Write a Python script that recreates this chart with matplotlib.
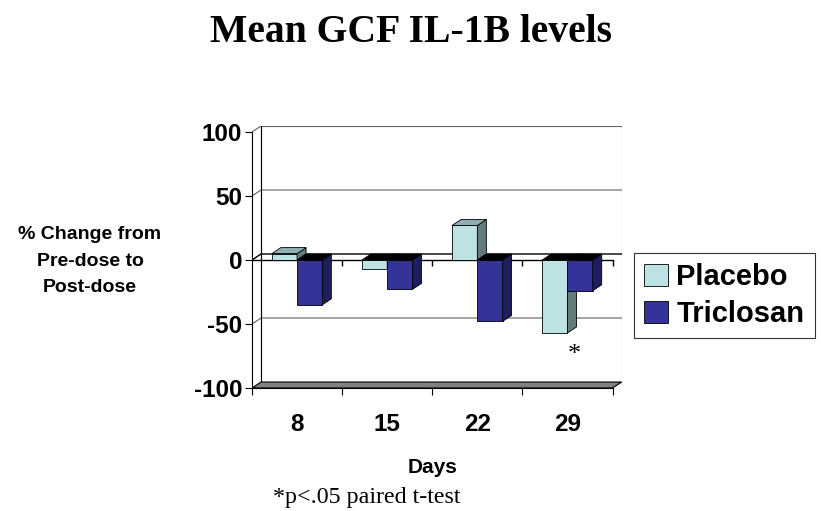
import numpy as np
import matplotlib.pyplot as plt
from matplotlib.patches import Polygon, Rectangle, Patch

# data
days = ["8", "15", "22", "29"]
placebo = [5, -7, 27, -57]
triclosan = [-35, -23, -48, -24]
y_ticks = [-100, -50, 0, 50, 100]

# colours (Excel 3D style: face, side, top)
plac_face, plac_side, plac_top = "#BDE2E4", "#627C7C", "#8FB0B2"
tric_face, tric_side, tric_top = "#333399", "#1E1E5C", "#2A2A6E"

fig = plt.figure(figsize=(8.21, 5.11), dpi=100)
ax = fig.add_axes([252 / 821, 1 - 388 / 511, 370 / 821, 262 / 511])

# depth offset of the 3D look in data units
dx = 9 / 90.0
dy = 6 / 1.285
x = np.arange(len(days))
bw = 0.28

ax.set_xlim(-0.5, 3.5 + dx + 0.005)
ax.set_ylim(-100, 100 + dy)

# back wall and gridlines
ax.add_patch(Rectangle((-0.5 + dx, -100 + dy), 4, 200, facecolor="white",
                       edgecolor="#606060", lw=0.8, zorder=0))
for g in [50, -50]:
    ax.plot([-0.5, -0.5 + dx, 3.5 + dx], [g, g + dy, g + dy], color="#606060", lw=0.8, zorder=1)
ax.plot([-0.5, -0.5 + dx, 3.5 + dx], [100, 100 + dy, 100 + dy], color="#606060", lw=0.8, zorder=1)
ax.plot([-0.5 + dx, -0.5 + dx], [-100 + dy, 100 + dy], color="black", lw=0.8, zorder=1)
# zero plane (back line) and floor
ax.plot([-0.5, -0.5 + dx, 3.5 + dx], [0, dy, dy], color="black", lw=1.0, zorder=1)
ax.add_patch(Polygon([(-0.5, -100), (3.5, -100), (3.5 + dx, -100 + dy), (-0.5 + dx, -100 + dy)],
                     closed=True, facecolor="#808080", edgecolor="black", lw=0.8, zorder=1))


def bar3d(xc, v, face, side, top):
    x0, x1 = xc - bw / 2, xc + bw / 2
    ax.bar(xc, v, width=bw, color=face, edgecolor="black", lw=0.6, zorder=3)
    ytop = max(v, 0)
    ybot = min(v, 0)
    ax.add_patch(Polygon([(x1, ybot), (x1 + dx, ybot + dy), (x1 + dx, ytop + dy), (x1, ytop)],
                         closed=True, facecolor=side, edgecolor="black", lw=0.6, zorder=3))
    tcol = top if v > 0 else "black"
    ax.add_patch(Polygon([(x0, ytop), (x1, ytop), (x1 + dx, ytop + dy), (x0 + dx, ytop + dy)],
                         closed=True, facecolor=tcol, edgecolor="black", lw=0.6, zorder=3))


for i in range(len(days)):
    bar3d(x[i] - bw / 2, placebo[i], plac_face, plac_side, plac_top)
for i in range(len(days)):
    bar3d(x[i] + bw / 2, triclosan[i], tric_face, tric_side, tric_top)

# front zero axis with ticks
ax.plot([-0.5, 3.5], [0, 0], color="black", lw=1.0, zorder=2)
ax.vlines(np.arange(0.5, 4.0, 1.0), -4.5, 0, color="black", lw=1.0, zorder=2)

for s in ["top", "right"]:
    ax.spines[s].set_visible(False)
ax.spines["left"].set_bounds(-100, 100)
ax.spines["bottom"].set_bounds(-0.5, 3.5)
ax.set_yticks(y_ticks)
ax.set_yticklabels([str(t) for t in y_ticks], fontsize=17.5, fontweight="bold", family="Liberation Sans")
ax.set_xticks(np.arange(-0.5, 4.0, 1.0))
ax.set_xticklabels([])
ax.set_xticks(x, minor=True)
ax.set_xticklabels(days, minor=True, fontsize=17.5, fontweight="bold", family="Liberation Sans")
ax.tick_params(axis="x", which="minor", length=0, pad=18)
ax.tick_params(axis="x", which="major", length=5, direction="out")
ax.tick_params(axis="y", length=5, direction="out", pad=2)
ax.patch.set_visible(False)

ax.text(x[3] + 0.08, -74, "*", fontsize=19, family="Liberation Serif", ha="center", va="center")

fig.text(411 / 821, 1 - 32 / 511, "Mean GCF IL-1B levels", fontsize=28.5, fontweight="bold",
         family="Liberation Serif", ha="center", va="center")
fig.text(90 / 821, 1 - 261 / 511, "% Change from\nPre-dose to\nPost-dose", fontsize=14,
         fontweight="bold", family="Liberation Sans", ha="center", va="center", linespacing=1.75)
fig.text(433 / 821, 1 - 467 / 511, "Days", fontsize=15, fontweight="bold",
         family="Liberation Sans", ha="center", va="center")
fig.text(273 / 821, 1 - 497 / 511, "*p<.05 paired t-test", fontsize=17.3,
         family="Liberation Serif", ha="left", va="center")

handles = [Patch(facecolor=plac_face, edgecolor="black", lw=0.6),
           Patch(facecolor=tric_face, edgecolor="black", lw=0.6)]
leg = fig.legend(handles, ["Placebo", "Triclosan"], loc="upper left",
                 bbox_to_anchor=(634 / 821, 1 - 253 / 511),
                 prop={"family": "Liberation Sans", "weight": "bold", "size": 21},
                 frameon=True, fancybox=False, handlelength=0.8, handleheight=0.8,
                 handletextpad=0.3, borderpad=0.35, labelspacing=0.3, borderaxespad=0)
leg.get_frame().set_edgecolor("black")
leg.get_frame().set_linewidth(0.8)

fig.savefig("out.png", dpi=100)
